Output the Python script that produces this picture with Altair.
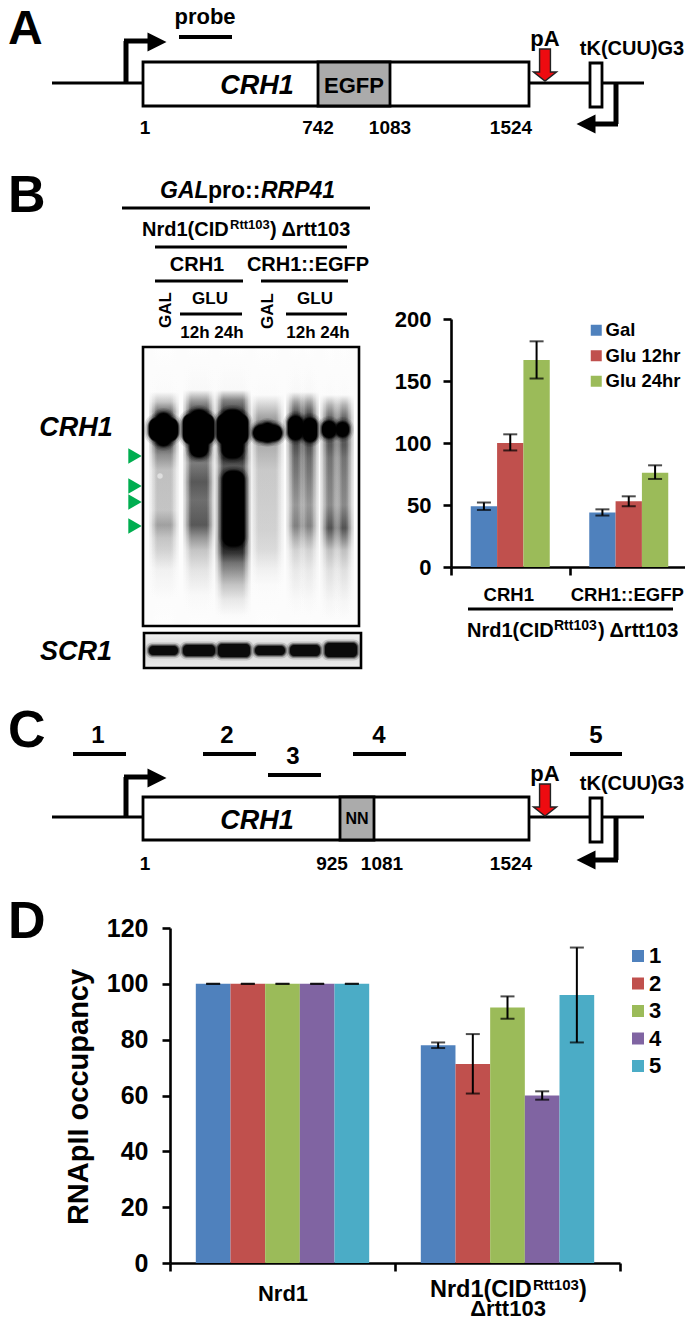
import altair as alt
import pandas as pd

FONT = "Liberation Sans"
W, H = 677, 1313

# ---- values
b_groups = ["CRH1", "CRH1::EGFP"]
b_series = ["Gal", "Glu 12hr", "Glu 24hr"]
b_values = [49, 100, 167, 44, 53, 76]
b_low = [46, 94, 152, 41.5, 49, 71]
b_high = [52, 107, 182, 46.5, 57, 82]
b_colors = ["#4F81BD", "#C0504D", "#9BBB59"]

d_groups = ["Nrd1", "Nrd1(CID) rtt103"]
d_series = ["1", "2", "3", "4", "5"]
d_values = [100, 100, 100, 100, 100, 78, 71.3, 91.5, 60, 96]
d_low = [100, 100, 100, 100, 100, 77, 60.7, 87.5, 58.5, 79]
d_high = [100, 100, 100, 100, 100, 79, 82, 95.5, 61.5, 113]
d_colors = ["#4F81BD", "#C0504D", "#9BBB59", "#8064A2", "#4BACC6"]

# ---- schematic segments (x1, y1, x2, y2, width)
segments = [
    (52, 83, 644, 83, 3), (126, 83, 126, 41, 5), (124, 41, 150, 41, 5),
    (179, 37, 232, 37, 4), (616, 84, 616, 124, 5), (618, 124, 594, 124, 5),
    (122, 208, 370, 208, 3), (155, 247, 347, 247, 3), (155, 281, 243, 281, 3),
    (261, 281, 348, 281, 3), (180, 314, 242, 314, 3), (286, 314, 347, 314, 3),
    (468, 609, 673, 609, 3),
    (52, 817, 644, 817, 3), (126, 817, 126, 777, 5), (124, 777, 150, 777, 5),
    (73, 754, 126, 754, 4), (203, 754, 256, 754, 4), (268, 775, 321, 775, 4),
    (353, 754, 406, 754, 4), (570, 754, 622, 754, 4),
    (616, 818, 616, 860, 5), (618, 860, 594, 860, 5),
]
boxes = [
    (143, 62, 529, 106, "white"), (318, 62, 390, 106, "#ababab"), (590, 63, 602, 107, "white"),
    (143, 797, 529, 840, "white"), (340, 797, 374, 840, "#ababab"), (590, 798, 602, 842, "white"),
]
head_right = [(157, 42), (157, 778)]
head_left = [(586, 124), (586, 860)]
red_arrows = [(545, 65), (545, 800)]
green_marks = [(135, 456), (135, 486), (135, 502), (135, 526)]
gel_spot = [(160, 476)]

# ---- labels (text, x, y, size)
bold_center = [
    ("probe", 205, 24, 22), ("1", 145, 134, 19), ("742", 318, 134, 19), ("1083", 390, 134, 19),
    ("1524", 511, 134, 19), ("pA", 545, 46, 22), ("tK(CUU)G3", 632, 55, 20), ("EGFP", 354, 93, 22),
    ("CRH1", 197, 271, 20), ("CRH1::EGFP", 308, 271, 20), ("GLU", 210, 304, 17), ("GLU", 315, 304, 17),
    ("12h 24h", 212, 338, 17), ("12h 24h", 318, 338, 17),
    ("1", 98, 743, 24), ("2", 227, 743, 24), ("3", 293, 764, 24), ("4", 379, 743, 24), ("5", 596, 743, 24),
    ("pA", 545, 781, 22), ("tK(CUU)G3", 632, 790, 20), ("NN", 357, 824, 16),
    ("1", 145, 870, 19), ("925", 332, 870, 19), ("1081", 382, 870, 19), ("1524", 511, 870, 19),
    ("Δrtt103", 508, 1316, 22),
]
bold_left = [
    ("A", 8, 44, 48), ("B", 8, 212, 52), ("C", 8, 747, 52), ("D", 8, 938, 52),
    ("pro::", 208, 198, 23),
    ("Nrd1(CID", 142, 236, 20), (") Δrtt103", 270, 236, 20),
    ("Nrd1(CID", 467, 637, 20), (") Δrtt103", 598, 637, 20),
    ("Nrd1(CID", 430, 1297, 23.5), (")", 579, 1297, 23.5),
]
sup_left = [("Rtt103", 230, 229, 13), ("Rtt103", 554, 630, 14), ("Rtt103", 533, 1290, 15)]
italic_center = [("CRH1", 257, 94, 27), ("CRH1", 257, 829, 27), ("CRH1", 76, 436, 27), ("SCR1", 76, 660, 27)]
italic_left = [("GAL", 160, 198, 23), ("RRP41", 261, 198, 23)]
rotated = [("GAL", 166, 310, 17), ("GAL", 268, 311, 17), ("RNApII occupancy", 79, 1097, 29)]

# ---- gel read-off: (lane x-centre, half width, [(page y, grey level)...])
gel_top, gel_bottom = 347, 626
lanes = [
    (164, 9, [(347, 254), (392, 250), (402, 190), (412, 90), (445, 70), (455, 130), (470, 185), (510, 190), (525, 150), (538, 190), (550, 205), (570, 240), (600, 252), (626, 254)]),
    (199, 10, [(347, 254), (390, 248), (400, 150), (412, 50), (455, 50), (463, 110), (482, 70), (500, 95), (525, 70), (538, 140), (550, 190), (570, 225), (595, 248), (626, 254)]),
    (233, 12, [(347, 254), (390, 248), (400, 120), (412, 40), (458, 20), (466, 70), (478, 15), (545, 0), (553, 30), (563, 100), (575, 150), (585, 190), (600, 230), (615, 250), (626, 254)]),
    (267, 11, [(347, 254), (395, 250), (408, 195), (425, 120), (445, 165), (470, 195), (500, 200), (530, 205), (550, 215), (570, 240), (585, 250), (626, 254)]),
    (296, 4, [(347, 254), (392, 248), (402, 150), (415, 50), (445, 60), (458, 90), (482, 115), (505, 140), (526, 115), (538, 165), (550, 205), (570, 230), (600, 248), (626, 254)]),
    (309, 4, [(347, 254), (392, 248), (402, 150), (415, 50), (445, 60), (458, 90), (482, 115), (505, 140), (526, 115), (538, 165), (550, 205), (570, 230), (600, 248), (626, 254)]),
    (330, 4, [(347, 254), (395, 250), (405, 170), (418, 85), (445, 70), (458, 100), (482, 115), (505, 125), (528, 65), (540, 130), (550, 185), (570, 220), (602, 245), (626, 254)]),
    (344, 4, [(347, 254), (395, 250), (405, 170), (418, 85), (445, 70), (458, 100), (482, 115), (505, 125), (528, 65), (540, 130), (550, 185), (570, 220), (602, 245), (626, 254)]),
]
main_bands = [
    (149, 178, 418, 441), (156, 171, 413, 446), (183, 214, 414, 444), (190, 208, 410, 457),
    (217, 248, 414, 444), (222, 243, 410, 458), (223, 244, 471, 546), (253, 282, 425, 441), (262, 273, 423, 442),
    (288, 303, 416, 440), (303, 317, 418, 442), (322, 336, 421, 438), (336, 349, 422, 437),
]
scr_bands = [(149, 178, 646, 655), (183, 215, 645, 656), (218, 250, 644, 657), (255, 285, 646, 655), (290, 320, 645, 656), (325, 357, 643, 657)]

PX = alt.Scale(domain=[8, 685], range=[0, W], nice=False, zero=False)
PY = alt.Scale(domain=[8, 1321], range=[0, H], nice=False, zero=False)


def X(f="x"):
    return alt.X(f"{f}:Q", scale=PX, axis=None)


def Y(f="y"):
    return alt.Y(f"{f}:Q", scale=PY, axis=None)


def tbl(rows, cols):
    return pd.DataFrame(rows, columns=cols)


def text_layer(rows, **kw):
    return alt.Chart(tbl(rows, ["t", "x", "y", "s"])).mark_text(font=FONT, fontWeight="bold", color="black", **kw).encode(
        x=X(), y=Y(), text="t:N", size=alt.Size("s:Q", scale=None))


def rect_layer(rows, **kw):
    return alt.Chart(tbl(rows, ["x", "x2", "y", "y2"])).mark_rect(**kw).encode(
        x=X("x"), x2="x2:Q", y=Y("y"), y2="y2:Q")


layers = []

# gel background
layers.append(rect_layer([(143, 359, 347, 626)], color="#fcfcfc"))
layers.append(rect_layer([(144, 361, 633, 668)], fill=alt.Gradient(
    gradient="linear", x1=0, x2=0, y1=0, y2=1,
    stops=[alt.GradientStop(offset=0, color="#f2f2f2"), alt.GradientStop(offset=0.5, color="#d5d5d5"), alt.GradientStop(offset=1, color="#eeeeee")])))

# gel lanes with soft edges
for cx, hw, profile in lanes:
    stops = [alt.GradientStop(offset=(y - gel_top) / (gel_bottom - gel_top), color=f"rgb({g},{g},{g})") for y, g in profile]
    grad = alt.Gradient(gradient="linear", x1=0, x2=0, y1=0, y2=1, stops=stops)
    for grow, op in [(6, 0.14), (4.5, 0.16), (3, 0.2), (1.5, 0.3), (0, 0.4), (-1.5, 0.6)]:
        layers.append(rect_layer([(cx - hw - grow, cx + hw + grow, gel_top, gel_bottom)], fill=grad, opacity=op))

# gel bands
for grow, op, rad in [(5, 0.1, 14), (3.5, 0.15, 13), (2, 0.3, 12), (1, 0.5, 10), (0, 1, 8)]:
    rows = [(a - grow, b + grow, c - grow, d + grow) for a, b, c, d in main_bands]
    layers.append(rect_layer(rows, color="black", opacity=op, cornerRadius=rad))
for grow, op, rad in [(3.5, 0.15, 7), (2, 0.3, 6), (1, 0.5, 5), (0, 1, 4)]:
    rows = [(a - grow, b + grow, c - grow, d + grow) for a, b, c, d in scr_bands]
    layers.append(rect_layer(rows, color="#0a0a0a", opacity=op, cornerRadius=rad))
layers.append(alt.Chart(tbl(gel_spot, ["x", "y"])).mark_point(shape="circle", filled=True, size=30, color="#e6e6e6", opacity=0.8).encode(x=X(), y=Y()))

# gel frames
layers.append(rect_layer([(143, 359, 347, 626), (144, 361, 633, 668)], fillOpacity=0, stroke="black", strokeWidth=2.6))

# schematic
layers.append(alt.Chart(tbl(segments, ["x", "y", "x2", "y2", "w"])).mark_rule(color="black").encode(
    x=X("x"), x2="x2:Q", y=Y("y"), y2="y2:Q", strokeWidth=alt.StrokeWidth("w:Q", scale=None)))
layers.append(alt.Chart(tbl(boxes, ["x", "y", "x2", "y2", "c"])).mark_rect(stroke="black", strokeWidth=2.8).encode(
    x=X("x"), x2="x2:Q", y=Y("y"), y2="y2:Q", fill=alt.Fill("c:N", scale=None)))
layers.append(alt.Chart(tbl(head_right, ["x", "y"])).mark_point(shape="M-1,-1 L1,0 L-1,1 Z", filled=True, size=361, color="black", opacity=1).encode(x=X(), y=Y()))
layers.append(alt.Chart(tbl(head_left, ["x", "y"])).mark_point(shape="M1,-1 L-1,0 L1,1 Z", filled=True, size=361, color="black", opacity=1).encode(x=X(), y=Y()))
layers.append(alt.Chart(tbl(red_arrows, ["x", "y"])).mark_point(
    shape="M-.34,-1 L.34,-1 L.34,.44 L.72,.44 L0,1 L-.72,.44 L-.34,.44 Z", filled=True, size=1024,
    fill="#ee0b10", stroke="#222222", strokeWidth=1.4, opacity=1).encode(x=X(), y=Y()))
layers.append(alt.Chart(tbl(green_marks, ["x", "y"])).mark_point(shape="triangle-right", filled=True, size=240, color="#00AE50", opacity=1).encode(x=X(), y=Y()))

# texts
layers.append(text_layer(bold_center, align="center", baseline="alphabetic"))
layers.append(text_layer(bold_left, align="left", baseline="alphabetic"))
layers.append(text_layer(sup_left, align="left", baseline="alphabetic"))
layers.append(text_layer(italic_center, align="center", baseline="alphabetic", fontStyle="italic"))
layers.append(text_layer(italic_left, align="left", baseline="alphabetic", fontStyle="italic"))
layers.append(text_layer(rotated, align="center", baseline="middle", angle=270))


def bars(groups, series, values, low, high, colors, y_dom, y_px, x_px, ticks, tick_font, padding, cap, x_font,
         label_pad, y_pad, x_off, leg, x_expr=None):
    rows = []
    k = 0
    for g in groups:
        for s in series:
            rows.append(dict(g=g, s=s, v=values[k], lo=low[k], hi=high[k]))
            k += 1
    df = pd.DataFrame(rows)
    ys = alt.Scale(domain=y_dom, range=[y_px[0] - 8, y_px[1] - 8], nice=False, zero=False)
    xs = alt.Scale(domain=groups, range=[x_px[0] - 8, x_px[1] - 8], paddingInner=0, paddingOuter=0)
    os_ = alt.Scale(domain=series, paddingInner=0, paddingOuter=padding)
    axis_x = alt.Axis(
        orient="bottom", offset=-(H - (y_px[0] - 8)), title=None, grid=False, labelAngle=0, tickBand="extent",
        domainColor="black", domainWidth=2.6, tickColor="black", tickWidth=2.6, tickSize=8, labelFont=FONT,
        labelFontWeight="bold", labelFontSize=x_font, labelColor="black", labelPadding=label_pad, labelOffset=x_off,
        labelExpr=x_expr if x_expr else "datum.label", labelLimit=0)
    axis_y = alt.Axis(
        orient="left", offset=-(x_px[0] - 8), title=None, grid=False, values=ticks, domainColor="black",
        domainWidth=2.6, tickColor="black", tickWidth=2.6, tickSize=8, labelFont=FONT, labelFontWeight="bold",
        labelFontSize=tick_font, labelColor="black", labelPadding=y_pad)
    legend = alt.Legend(
        orient="none", legendX=leg["x"] - 8, legendY=leg["y"] - 8, title=None, symbolType="square",
        symbolSize=leg["sym"], symbolStrokeWidth=0, symbolOpacity=1, labelFont=FONT, labelFontWeight="bold",
        labelFontSize=leg["font"], labelColor="black", rowPadding=leg["row"], padding=0, labelOffset=leg["off"])
    base = alt.Chart(df)
    out = [
        base.mark_bar(opacity=1).encode(
            x=alt.X("g:N", scale=xs, axis=axis_x, sort=groups),
            xOffset=alt.XOffset("s:N", scale=os_, sort=series),
            y=alt.Y("v:Q", scale=ys, axis=axis_y),
            color=alt.Color("s:N", scale=alt.Scale(domain=series, range=colors), legend=legend, sort=series)),
        base.mark_rule(color="black", strokeWidth=2).encode(
            x=alt.X("g:N", scale=xs, axis=None, sort=groups),
            xOffset=alt.XOffset("s:N", scale=os_, sort=series),
            y=alt.Y("lo:Q", scale=ys, axis=None), y2="hi:Q"),
        base.mark_tick(color="black", thickness=2, size=cap, orient="horizontal").encode(
            x=alt.X("g:N", scale=xs, axis=None, sort=groups),
            xOffset=alt.XOffset("s:N", scale=os_, sort=series),
            y=alt.Y("lo:Q", scale=ys, axis=None)),
        base.mark_tick(color="black", thickness=2, size=cap, orient="horizontal").encode(
            x=alt.X("g:N", scale=xs, axis=None, sort=groups),
            xOffset=alt.XOffset("s:N", scale=os_, sort=series),
            y=alt.Y("hi:Q", scale=ys, axis=None)),
    ]
    return out


layers += bars(b_groups, b_series, b_values, b_low, b_high, b_colors, [0, 200], (567, 319), (451, 688),
               [0, 50, 100, 150, 200], 22, 0.75, 14, 18.5, 10, 12, -2,
               dict(x=587, y=321, sym=121, font=18.5, row=6.5, off=0))
layers += bars(d_groups, d_series, d_values, d_low, d_high, d_colors, [0, 120], (1263, 928), (170, 620),
               [0, 20, 40, 60, 80, 100, 120], 25, 0.744, 14, 22, 12, 14, 0,
               dict(x=627, y=945, sym=144, font=22, row=5.5, off=0),
               x_expr="datum.label == 'Nrd1' ? 'Nrd1' : ''")

chart = alt.layer(*layers).resolve_scale(
    x="independent", y="independent", color="independent", xOffset="independent").properties(
    width=W, height=H, padding=0, autosize=alt.AutoSizeParams(type="none"), background="white",
).configure_view(stroke=None)

chart.save("out.html", embed_options={"renderer": "svg", "actions": False})
